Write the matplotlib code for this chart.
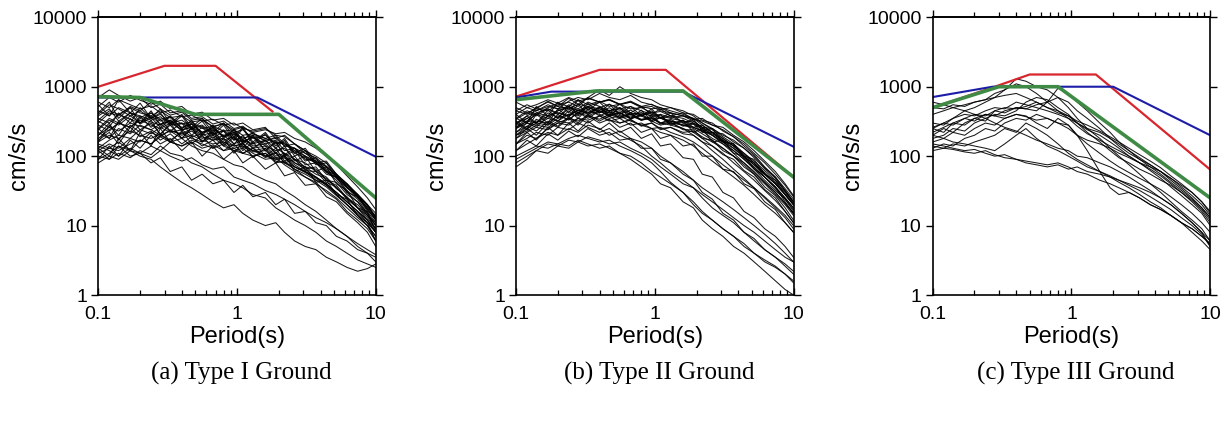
import matplotlib
matplotlib.use("Agg")
import matplotlib.pyplot as plt
from matplotlib.ticker import FixedLocator, FixedFormatter, LogLocator, NullFormatter, NullLocator

# ---------------- data ----------------
periods = [0.10, 0.12, 0.14, 0.17, 0.20, 0.24, 0.28, 0.33, 0.40, 0.47, 0.56, 0.67, 0.80, 0.95,
           1.1, 1.3, 1.6, 1.9, 2.2, 2.6, 3.1, 3.7, 4.4, 5.2, 6.2, 7.4, 8.7, 10.0]

records_a = [
    [300,420,380,520,450,600,480,390,430,330,350,260,300,220,240,180,200,150,160,110,95,80,60,45,30,22,15,10],
    [180,240,300,260,350,310,280,330,260,290,220,250,190,210,170,150,170,130,110,90,70,65,45,38,25,18,14,9],
    [120,150,130,180,160,220,190,240,200,230,180,200,160,140,150,120,100,110,80,70,60,45,40,28,20,14,10,7],
    [520,700,600,750,640,560,620,480,520,400,430,330,350,280,300,240,260,180,200,150,120,100,80,55,40,28,20,13],
    [100,90,110,95,120,105,140,110,100,80,70,55,45,40,35,28,25,18,15,12,10,8,6,5,4,3.2,2.8,2.5],
    [150,130,160,120,100,90,70,55,42,35,28,22,18,20,15,12,10,11,8,6,5,4.5,3.5,3.0,2.5,2.2,2.4,2.8],
    [250,350,300,420,380,330,370,280,300,250,270,200,240,180,160,190,140,120,130,90,80,60,50,35,25,20,14,11],
    [400,550,480,380,450,350,400,300,330,260,280,210,230,170,190,140,150,110,100,80,65,50,40,30,22,16,11,8],
    [90,110,140,120,170,150,200,170,220,180,160,190,140,120,130,100,110,80,85,65,50,42,30,24,16,12,9,6],
    [700,900,750,620,700,500,560,420,450,350,370,290,320,250,270,210,180,200,150,130,100,85,65,50,36,26,18,14],
    [200,260,230,300,270,240,290,230,210,250,190,170,200,150,170,130,140,100,110,80,70,55,48,34,26,18,13,9],
    [130,170,200,180,240,210,260,220,240,190,210,170,180,140,150,115,120,90,95,70,58,48,38,28,20,15,11,8],
    [350,300,400,340,300,380,290,320,240,260,200,220,170,190,140,120,130,95,100,75,60,50,40,30,22,16,12,9],
    [80,100,90,120,110,140,120,160,140,170,150,130,150,120,110,130,100,90,95,70,60,50,38,30,22,16,12,8],
    [450,380,500,420,360,420,340,370,290,310,250,270,230,240,200,210,180,160,150,120,100,80,62,48,35,25,18,12],
    [160,200,180,230,200,180,210,160,180,140,120,110,90,75,70,55,45,40,32,26,20,16,12,9,7,5,4,3.5],
    [280,230,300,260,330,280,250,300,240,260,220,240,200,220,180,200,170,180,140,130,110,85,70,52,38,27,19,13],
    [110,130,120,150,170,150,190,160,140,160,130,145,120,130,110,100,110,85,80,65,55,45,36,27,20,14,10,7],
    [600,500,650,550,480,530,420,460,370,390,320,340,280,300,250,230,250,200,190,150,120,90,70,52,38,28,20,15],
    [220,180,250,210,280,240,200,230,180,200,170,150,160,130,140,110,90,95,75,60,50,40,32,25,18,13,10,6],
    [330,450,400,500,420,380,450,360,380,310,330,270,290,240,260,220,240,210,220,180,160,130,100,75,52,36,25,17],
    [140,120,100,130,110,95,120,100,85,95,75,65,70,50,45,40,32,28,24,20,16,13,11,9,7,5.5,4.5,3.8],
    [250,180,320,220,380,260,340,230,300,200,260,180,230,150,200,130,170,110,140,85,100,60,70,40,32,18,16,8],
    [420,600,350,500,300,450,280,380,250,330,200,280,180,240,150,200,120,160,100,120,75,80,55,50,30,26,16,11],
    [160,280,200,350,240,300,210,280,180,250,160,220,140,190,120,160,100,130,85,100,65,70,45,42,28,22,14,10],
    [320,260,420,300,500,350,420,280,380,240,320,200,280,170,250,150,210,130,170,100,120,75,80,50,40,26,20,12],
    [130,100,180,120,220,140,250,160,230,150,200,130,180,110,160,95,130,80,105,60,70,42,45,28,24,14,11,6],
    [550,380,650,420,580,350,480,300,400,260,350,220,300,190,260,160,220,140,180,110,130,80,85,55,40,28,20,13],
    [200,300,170,280,220,330,200,300,180,260,160,240,150,210,130,190,120,160,105,130,85,95,60,55,35,28,17,12],
    [90,140,100,170,130,200,150,180,120,160,100,140,90,120,80,100,65,80,52,58,38,40,26,22,15,11,8,5],
    [380,480,320,420,290,360,260,330,230,290,210,260,190,240,170,220,160,190,140,150,110,95,72,55,36,26,17,12],
    [240,330,280,380,300,420,320,360,250,300,220,260,190,220,160,190,150,170,120,130,90,85,58,50,32,24,15,10],
    [120,90,140,100,110,80,95,60,70,45,55,40,45,30,38,26,30,20,24,15,16,11,10,7,6,4.5,4,3],
    [170,220,150,260,190,230,170,210,150,190,140,170,120,150,110,130,95,115,80,90,62,60,42,36,24,18,12,8],
]

records_b = [
    [250,320,400,350,450,520,420,500,450,380,420,350,400,330,360,300,280,250,210,170,130,100,75,55,40,28,20,14],
    [350,300,420,480,400,550,480,600,520,450,500,420,380,450,350,320,280,300,240,200,160,120,90,65,45,32,24,17],
    [150,200,180,250,300,280,350,300,380,320,350,280,300,250,220,200,170,140,110,85,65,50,38,28,20,15,11,8],
    [450,400,500,600,520,480,560,520,600,650,550,600,500,520,450,420,380,350,300,250,190,150,110,80,55,40,28,20],
    [70,90,120,110,140,130,160,140,150,130,110,90,70,55,40,35,22,18,12,9,7,5,4,3,2.2,1.6,1.2,1.0],
    [100,120,140,130,150,140,170,150,130,140,110,100,80,60,50,40,30,20,15,12,9,7,5.5,4,3,2.5,2,1.5],
    [300,380,450,520,480,620,700,650,800,700,650,750,600,550,500,450,400,350,280,220,170,130,95,70,50,36,25,18],
    [200,250,300,280,350,400,380,450,400,350,380,320,280,300,250,260,220,230,190,160,130,100,80,60,42,30,21,15],
    [400,500,450,550,480,520,450,500,430,460,380,400,340,360,300,280,250,200,160,120,90,65,48,35,25,18,13,9],
    [180,220,260,240,300,350,320,380,340,400,350,380,330,350,300,320,280,260,230,200,160,130,100,75,55,40,28,20],
    [120,150,180,220,200,250,220,280,250,200,230,180,160,130,100,80,60,45,35,28,22,17,13,10,7.5,5.5,4,3],
    [600,500,550,650,580,700,620,680,600,640,560,600,520,480,500,420,380,320,260,200,150,110,80,58,42,30,21,15],
    [250,300,280,350,320,400,450,420,500,560,480,520,450,400,380,350,320,290,250,210,170,140,110,85,62,45,32,22],
    [80,100,120,150,140,170,160,190,170,150,160,130,110,90,70,55,40,35,28,22,17,13,10,8,6,4.5,3.5,3],
    [350,450,400,500,580,520,650,550,620,520,560,480,500,420,440,380,350,300,260,220,180,140,105,80,58,42,30,21],
    [220,270,320,300,380,340,420,380,450,400,420,350,380,320,280,300,250,220,180,140,110,80,60,45,32,23,16,11],
    [500,420,480,450,550,600,520,700,900,750,1000,800,700,650,550,500,450,380,300,240,180,140,100,75,55,40,28,20],
    [150,180,220,200,260,240,300,260,220,250,200,170,140,100,80,60,45,35,25,18,14,11,8,6,4.5,3.5,2.8,2.2],
    [300,350,420,380,450,500,460,520,480,420,450,400,420,380,400,360,380,340,320,280,240,190,150,110,80,55,38,26],
    [200,230,280,260,320,300,350,330,380,330,300,330,280,250,260,220,190,160,130,100,75,58,45,35,26,19,14,10],
    [260,320,300,380,420,380,460,420,500,450,480,400,420,380,360,320,300,260,230,180,150,120,90,68,50,36,25,18],
    [90,110,130,160,150,180,200,180,160,170,140,120,100,80,60,42,30,22,16,12,9,7,5,4,3.2,2.6,2.0,1.6],
    [280,380,300,460,350,520,400,580,420,560,400,520,380,480,350,420,300,340,230,250,160,150,95,80,50,36,22,15],
    [320,250,400,300,480,360,560,400,520,380,500,350,460,320,400,280,330,220,250,160,170,110,100,65,50,34,24,16],
    [220,300,260,380,320,450,350,480,380,440,360,420,330,380,300,340,270,290,220,220,160,150,100,90,55,45,28,20],
    [180,250,200,300,260,350,280,380,300,340,260,300,220,250,180,200,140,150,100,100,65,60,40,34,22,17,11,8],
    [400,300,520,380,600,420,650,460,600,440,560,420,520,400,480,380,420,340,350,280,260,200,160,120,85,60,40,27],
    [150,220,170,260,200,300,230,320,240,300,220,260,180,210,140,150,95,90,55,50,30,25,16,13,9,7,5,3.5],
    [260,350,300,420,360,480,390,520,420,500,400,460,380,430,350,380,310,320,260,250,200,170,130,100,68,50,32,22],
    [340,420,380,480,420,380,460,400,480,420,360,400,330,360,290,310,240,240,180,170,120,100,70,55,36,27,18,12],
    [120,170,140,210,170,230,190,250,200,220,170,180,130,130,90,80,55,45,30,24,15,12,8,6.5,4.5,3.5,2.6,2],
    [450,550,480,620,520,680,560,700,600,660,560,620,520,560,470,500,420,400,330,300,230,190,140,105,70,50,34,24],
    [200,270,230,320,270,370,300,400,320,380,300,340,270,300,240,260,210,200,160,140,105,90,62,50,33,25,16,11],
    [300,240,340,280,400,330,430,350,450,370,430,340,400,310,360,290,330,260,280,220,210,160,130,95,66,48,31,22],
]

records_c = [
    [250,300,350,450,500,600,700,900,1300,1200,1000,900,700,500,350,250,180,130,100,75,55,40,30,22,16,12,9,6],
    [150,140,130,120,125,110,100,105,90,85,80,75,80,70,60,55,45,40,35,30,25,20,17,14,11,9,7,5.5],
    [200,250,220,300,350,320,450,420,500,480,450,600,950,800,600,450,300,220,160,120,90,70,55,42,32,24,18,13],
    [300,280,350,400,380,450,500,480,600,550,500,450,400,350,300,250,220,180,150,120,95,75,60,45,34,25,18,13],
    [130,150,140,180,200,250,230,300,350,330,400,350,300,280,200,120,60,35,28,30,25,20,17,14,11,9,7,5.5],
    [600,550,500,450,400,350,300,260,230,200,170,150,130,120,100,95,80,70,60,50,40,32,25,20,15,11,8,6],
    [250,220,300,280,350,400,380,450,500,480,550,600,700,600,450,350,250,180,140,110,90,75,60,48,38,30,22,16],
    [180,200,250,230,300,350,400,380,450,600,700,650,500,400,300,220,160,120,95,80,65,55,45,38,30,23,17,12],
    [400,450,500,550,600,650,800,900,1100,1000,800,600,450,350,270,210,170,140,120,100,80,65,52,40,30,22,16,11],
    [140,130,150,140,160,180,200,250,220,300,250,200,150,110,90,75,60,50,42,35,28,22,18,14,11,8,6,4.5],
    [220,260,300,350,400,380,450,500,480,520,600,500,420,380,320,280,230,190,160,130,105,85,68,52,40,30,22,15],
    [120,130,125,115,110,120,105,95,90,80,75,70,75,65,70,60,55,50,45,40,35,30,25,20,15,11,8,5],
    [500,480,550,520,600,650,700,750,800,700,600,500,450,380,300,240,200,160,130,100,80,62,48,36,27,20,15,10],
    [260,300,280,350,320,400,380,350,400,370,330,350,300,250,200,170,150,130,110,95,80,70,60,48,36,27,20,14],
    [160,180,220,200,250,300,280,350,400,380,300,250,350,280,200,150,110,85,70,58,48,40,33,26,20,15,11,8],
    [200,180,160,150,140,130,120,150,200,250,180,140,120,100,85,70,60,52,45,38,32,26,21,17,13,10,7.5,5],
]

# design spectra (period, value) break points
red_a_T = [0.1, 0.3, 0.7, 1.8];       red_a_S = [1000, 2000, 2000, 440]
blue_a_T = [0.1, 1.4, 10];           blue_a_S = [700, 700, 98]
green_a_T = [0.1, 0.2, 0.5, 2.0, 10]; green_a_S = [720, 700, 400, 400, 25]

red_b_T = [0.1, 0.4, 1.2, 10];        red_b_S = [720, 1750, 1750, 50]
blue_b_T = [0.1, 0.18, 1.6, 10];      blue_b_S = [700, 850, 850, 137]
green_b_T = [0.1, 0.38, 1.6, 10];     green_b_S = [650, 870, 870, 50]

red_c_T = [0.1, 0.28, 0.5, 1.5, 10];  red_c_S = [500, 1000, 1500, 1500, 64]
blue_c_T = [0.1, 0.27, 2.0, 10];      blue_c_S = [710, 1000, 1000, 200]
green_c_T = [0.1, 0.3, 0.8, 10];      green_c_S = [500, 1000, 1000, 25]

captions = ["(a) Type I Ground", "(b) Type II Ground", "(c) Type III Ground"]
x_ticks = [0.1, 1, 10]; x_ticklabels = ["0.1", "1", "10"]
y_ticks = [1, 10, 100, 1000, 10000]; y_ticklabels = ["1", "10", "100", "1000", "10000"]

# ---------------- plot ----------------
W, H = 1228, 421
fig = plt.figure(figsize=(W / 100, H / 100), dpi=100)
plt.rcParams['font.family'] = ['Liberation Sans', 'DejaVu Sans']

lefts = [98.3, 516.0, 932.7]
axw = 277.5
top_px, bot_px = 17.3, 295.0

panels = [
    (records_a, (red_a_T, red_a_S), (blue_a_T, blue_a_S), (green_a_T, green_a_S)),
    (records_b, (red_b_T, red_b_S), (blue_b_T, blue_b_S), (green_b_T, green_b_S)),
    (records_c, (red_c_T, red_c_S), (blue_c_T, blue_c_S), (green_c_T, green_c_S)),
]

for i, (recs, red, blue, green) in enumerate(panels):
    ax = fig.add_axes([lefts[i] / W, (H - bot_px) / H, axw / W, (bot_px - top_px) / H])
    for r in recs:
        ax.plot(periods, r, color='black', lw=0.75, alpha=0.9)
    ax.plot(red[0], red[1], color='#d8262e', lw=1.6)
    ax.plot(blue[0], blue[1], color='#1c1ca8', lw=1.5)
    ax.plot(green[0], green[1], color='#3f8a45', lw=2.6)
    ax.set_xscale('log'); ax.set_yscale('log')
    ax.set_xlim(0.1, 10); ax.set_ylim(1, 10000)

    ax.xaxis.set_major_locator(FixedLocator(x_ticks))
    ax.xaxis.set_major_formatter(FixedFormatter(x_ticklabels))
    ax.xaxis.set_minor_locator(LogLocator(base=10, subs=range(2, 10)))
    ax.xaxis.set_minor_formatter(NullFormatter())
    ax.yaxis.set_major_locator(FixedLocator(y_ticks))
    ax.yaxis.set_major_formatter(FixedFormatter(y_ticklabels))
    ax.yaxis.set_minor_locator(NullLocator())

    ax.tick_params(axis='x', which='both', direction='in', top=False, bottom=True,
                   labelsize=14, pad=8, width=1.0)
    ax.tick_params(axis='x', which='major', length=5)
    ax.tick_params(axis='x', which='minor', length=3.5, width=0.9)
    ax.tick_params(axis='y', which='major', direction='out', left=True, right=True,
                   length=5, width=1.0, labelsize=14, pad=3)
    sec = ax.secondary_xaxis('top')
    sec.xaxis.set_major_locator(FixedLocator(x_ticks))
    sec.xaxis.set_minor_locator(LogLocator(base=10, subs=range(2, 10)))
    sec.tick_params(which='both', direction='out', labeltop=False, width=1.0)
    sec.tick_params(which='major', length=5)
    sec.tick_params(which='minor', length=3.5, width=0.9)
    sec.spines['top'].set_linewidth(1.2)
    for s in ax.spines.values():
        s.set_linewidth(1.2)

    ax.set_xlabel('Period(s)', fontsize=17, labelpad=2)
    ax.set_ylabel('cm/s/s', fontsize=17, labelpad=2)

    cx = (lefts[i] + axw / 2 + 4) / W
    fig.text(cx, (H - 373) / H, captions[i], ha='center', va='center',
             fontsize=18, family=['Liberation Serif', 'DejaVu Serif'])

fig.savefig('out.png', dpi=100)
